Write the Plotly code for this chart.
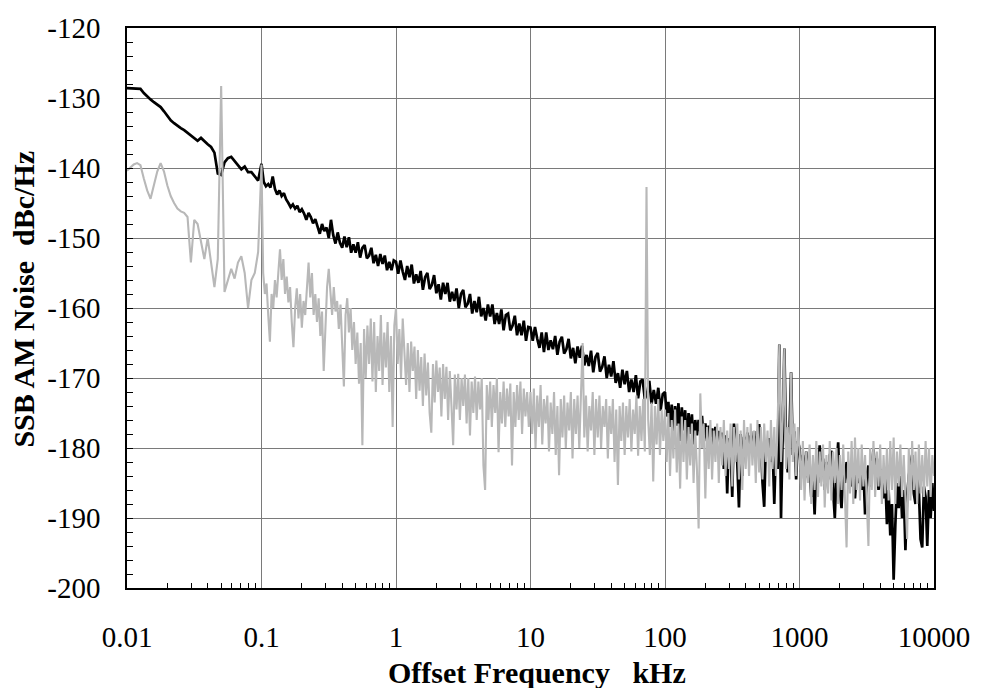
import numpy as np
import plotly.graph_objects as go

# ---------------- data (dBc/Hz), one list per decade of offset frequency (kHz) ----------------
decade_edges = [0.01, 0.1, 1, 10, 100, 1000, 10000]

black_d1 = [-128.6, -128.6, -128.6, -128.6, -128.7, -129.3, -129.8, -130.2, -130.6, -130.9,
            -131.3, -131.9, -132.6, -133.2, -133.6, -134.0, -134.3, -134.6, -135.0, -135.3,
            -135.8, -136.1, -135.7, -136.2, -136.6, -137.0, -137.8, -140.8, -141.0, -139.2,
            -138.6, -138.4, -139.0, -139.6, -140.2, -139.8, -140.6, -140.6, -141.2, -141.8]
black_d2 = [-139.4, -142.0, -142.6, -142.3, -142.8, -141.2, -143.0, -143.8, -143.2, -144.0,
            -143.6, -144.5, -145.0, -145.6, -145.2, -145.8, -145.4, -146.3, -145.9, -146.5,
            -147.4, -146.4, -147.0, -147.9, -147.3, -148.2, -149.4, -148.0, -149.0, -148.5,
            -150.0, -147.4, -149.6, -150.8, -149.2, -150.7, -151.4, -149.8, -151.3, -149.9,
            -152.1, -150.9, -152.1, -150.6, -152.8, -151.4, -151.0, -152.9, -152.5, -151.4,
            -153.6, -152.4, -154.0, -152.3, -153.7, -152.5, -154.6, -153.4, -154.6, -153.2]
black_d3 = [-153.4, -155.1, -153.2, -154.8, -156.0, -154.0, -155.6, -153.8, -156.5, -155.2,
            -156.4, -154.7, -157.4, -155.6, -155.0, -157.3, -156.7, -155.3, -157.9, -156.6,
            -158.8, -156.4, -158.0, -156.4, -159.1, -157.7, -159.0, -157.2, -160.0, -158.0,
            -157.4, -159.9, -159.4, -158.0, -160.8, -159.0, -160.6, -158.4, -161.2, -160.0,
            -161.8, -159.5, -161.2, -159.5, -162.3, -160.7, -162.3, -160.2, -163.2, -161.0,
            -160.8, -163.2, -162.5, -161.1, -163.9, -162.2, -163.9, -161.8, -164.7, -162.7]
black_d4 = [-162.8, -164.7, -162.7, -164.4, -165.7, -163.5, -166.3, -163.5, -166.0, -164.6,
            -165.9, -164.0, -166.7, -164.8, -164.1, -166.5, -165.9, -164.4, -167.2, -165.7,
            -167.9, -165.5, -167.1, -165.4, -168.2, -166.7, -168.3, -166.1, -169.2, -167.0,
            -166.4, -169.1, -168.4, -166.9, -170.0, -168.1, -169.8, -167.6, -170.7, -169.3,
            -171.4, -168.8, -170.9, -169.0, -172.0, -170.2, -172.0, -169.6, -172.9, -170.5,
            -170.2, -173.0, -172.2, -170.4, -173.7, -171.7, -173.7, -171.4, -174.7, -172.3]
black_d5 = [-172.0, -175.5, -173.4, -177.0, -173.8, -178.5, -174.0, -176.8, -173.6, -179.0,
            -174.2, -177.5, -174.6, -180.0, -175.0, -178.0, -175.2, -179.5, -176.0, -178.2,
            -176.0, -177.6, -175.4, -178.8, -176.5, -179.0, -176.8, -178.4, -177.2, -179.5,
            -177.0, -178.0, -177.6, -179.4, -177.8, -183.0, -178.2, -186.5, -178.6, -180.0,
            -187.0, -176.5, -179.5, -182.2, -188.5, -178.0, -184.0, -178.4, -180.4, -177.8,
            -180.0, -178.2, -180.6, -177.6, -181.0, -178.0, -176.6, -179.2, -185.0, -188.4,
            -179.0, -180.8, -178.6, -182.0, -180.0, -188.0, -179.6, -183.0, -165.2, -190.0,
            -178.0, -165.8, -179.0, -183.5, -178.2, -169.2, -181.0, -177.6, -184.5, -179.0]
black_d6 = [-180.0, -183.5, -181.0, -185.0, -180.5, -184.2, -182.0, -187.0, -184.0, -189.5,
            -182.0, -185.0, -179.6, -184.0, -181.5, -186.0, -182.0, -184.5, -181.0, -180.4,
            -186.0, -190.0, -183.0, -179.2, -186.0, -188.6, -183.0, -185.0, -182.0, -184.5,
            -183.2, -185.5, -182.5, -187.2, -183.5, -185.0, -182.8, -186.0, -183.0, -189.5,
            -184.0, -182.5, -185.5, -183.0, -180.2, -183.5, -181.5, -186.0, -183.0, -185.5,
            -187.2, -184.0, -190.9, -186.0, -192.5, -188.0, -198.8, -191.0, -185.0, -188.6,
            -184.0, -190.0, -186.0, -194.6, -187.0, -184.0, -182.5, -181.0, -186.5, -188.0,
            -184.5, -186.0, -193.0, -194.2, -185.5, -187.0, -194.0, -186.0, -190.0, -185.0]
black_end = -189.0

gray_d1 = [-140.4, -140.0, -139.5, -139.3, -139.6, -141.5, -143.2, -144.4, -142.5, -140.5,
           -139.3, -140.5, -142.5, -144.0, -145.0, -145.8, -146.2, -146.4, -147.0, -153.5,
           -147.4, -148.0, -150.5, -153.0, -150.0, -153.5, -157.0, -153.0, -128.3, -157.7,
           -156.0, -154.4, -155.8, -153.5, -152.6, -155.0, -160.0, -156.0, -155.0, -152.0]
gray_d2 = [-139.5, -155.0, -158.0, -156.5, -161.0, -164.8, -158.0, -160.0, -156.0, -158.5,
           -155.0, -151.6, -156.0, -153.0, -158.0, -155.5, -159.2, -157.0, -162.0, -165.6,
           -160.0, -157.2, -161.5, -158.0, -162.8, -159.0, -161.0, -156.5, -153.5, -158.5,
           -155.0, -161.0, -158.0, -162.0, -158.6, -164.0, -160.5, -169.0, -162.0, -157.0,
           -154.4, -158.5, -161.0, -157.0, -160.5, -159.0, -163.0, -159.5, -165.0, -171.2,
           -161.0, -158.6, -163.5, -160.0, -166.0, -162.0, -168.0, -163.5, -170.8, -165.0,
           -179.6, -163.0, -170.0, -162.5, -168.0, -161.5, -170.5, -162.0, -172.0, -164.0,
           -169.0, -161.0, -171.0, -163.5, -168.5, -162.0, -172.0, -164.0, -177.0, -162.5]
gray_d3 = [-160.0, -168.0, -163.0, -170.0, -161.5, -166.0, -171.0, -165.0, -172.0, -164.8,
           -169.0, -165.5, -173.0, -166.0, -171.8, -167.0, -174.0, -166.5, -172.5, -167.8,
           -175.0, -177.8, -168.0, -173.5, -167.5, -172.0, -168.5, -175.5, -168.0, -173.0,
           -168.4, -176.0, -169.0, -174.0, -179.6, -169.5, -174.5, -169.4, -176.0, -170.0,
           -174.0, -169.5, -176.5, -170.0, -178.2, -170.5, -175.0, -169.8, -176.0, -170.5,
           -174.5, -170.0, -182.5, -186.0, -171.0, -176.0, -170.5, -177.0, -171.0, -175.0,
           -170.0, -180.6, -172.0, -176.5, -170.5, -177.0, -171.5, -175.5, -170.8, -182.5,
           -172.0, -177.0, -171.0, -176.0, -170.5, -178.0, -171.5, -175.5, -172.0, -177.0]
gray_d4 = [-172.0, -178.0, -171.5, -180.0, -172.5, -177.0, -171.0, -179.5, -173.0, -176.5,
           -172.5, -180.5, -173.5, -178.0, -172.0, -181.0, -174.0, -183.9, -173.0, -178.5,
           -172.5, -180.0, -173.5, -177.5, -172.0, -181.5, -173.0, -178.0, -172.5, -180.0,
           -173.5, -165.0, -178.5, -172.5, -180.5, -174.0, -177.5, -172.0, -181.0, -173.0,
           -178.5, -172.5, -180.0, -174.0, -177.0, -173.0, -181.5, -174.0, -178.0, -173.0,
           -182.0, -174.5, -185.3, -174.0, -179.0, -173.5, -181.0, -174.0, -178.5, -173.0,
           -180.5, -174.5, -178.0, -172.5, -181.1, -174.0, -179.0, -173.0, -180.5, -142.7,
           -176.0, -181.0, -173.5, -184.8, -174.0, -179.5, -173.0, -181.0, -174.5, -179.0]
gray_d5 = [-174.5, -182.0, -175.0, -184.0, -176.0, -181.5, -174.5, -183.5, -176.5, -185.8,
           -175.5, -182.0, -176.0, -184.5, -177.0, -182.5, -176.5, -185.0, -177.5, -183.0,
           -191.5, -172.2, -180.0, -176.5, -187.2, -177.0, -183.0, -176.0, -184.5, -177.5,
           -182.0, -176.5, -185.0, -177.0, -182.5, -176.0, -184.0, -177.5, -183.0, -176.5,
           -185.5, -177.0, -182.0, -176.5, -184.5, -177.5, -186.0, -176.0, -183.0, -177.0,
           -184.0, -176.5, -182.5, -177.5, -185.0, -176.0, -183.5, -177.0, -184.5, -176.5,
           -182.0, -177.5, -185.5, -176.0, -183.0, -177.0, -184.0, -176.5, -165.2, -182.0,
           -176.0, -165.8, -183.0, -177.0, -184.5, -169.2, -182.0, -176.5, -184.0, -177.0]
gray_d6 = [-180.0, -186.0, -179.0, -187.5, -180.5, -185.0, -179.5, -188.0, -181.0, -186.0,
           -179.0, -187.0, -180.5, -185.5, -179.5, -188.5, -181.0, -186.5, -179.0, -187.5,
           -180.5, -185.0, -180.0, -188.0, -181.0, -186.0, -179.5, -187.0, -194.2, -180.5,
           -186.5, -179.0, -188.0, -178.5, -186.0, -180.0, -187.5, -179.5, -185.5, -181.0,
           -188.5, -194.0, -180.0, -186.0, -179.0, -187.0, -180.5, -185.5, -179.5, -188.0,
           -181.0, -186.5, -180.0, -187.5, -179.0, -186.0, -178.5, -188.0, -180.5, -185.5,
           -179.5, -187.0, -181.0, -186.0, -193.0, -180.0, -187.5, -179.0, -186.0, -180.5,
           -188.0, -179.5, -186.5, -181.0, -187.0, -179.0, -185.5, -180.0, -187.0, -181.0]
gray_end = -184.0

x_tick_vals = [0.01, 0.1, 1, 10, 100, 1000, 10000]
x_tick_text = ["0.01", "0.1", "1", "10", "100", "1000", "10000"]
y_tick_vals = [-200, -190, -180, -170, -160, -150, -140, -130, -120]
y_tick_text = ["-200", "-190", "-180", "-170", "-160", "-150", "-140", "-130", "-120"]


def build(segments, end_value):
    xs, ys = [], []
    for k, seg in enumerate(segments):
        f = np.geomspace(decade_edges[k], decade_edges[k + 1], len(seg), endpoint=False)
        xs.extend(f.tolist())
        ys.extend(seg)
    xs.append(decade_edges[-1])
    ys.append(end_value)
    return xs, ys


bx, by = build([black_d1, black_d2, black_d3, black_d4, black_d5, black_d6], black_end)
gx, gy = build([gray_d1, gray_d2, gray_d3, gray_d4, gray_d5, gray_d6], gray_end)

minor_x = [m * 10.0 ** e for e in range(-2, 4) for m in range(2, 10)]

fig = go.Figure()
fig.add_trace(go.Scatter(x=bx, y=by, mode="lines", line=dict(color="#000000", width=2.7),
                         showlegend=False))
fig.add_trace(go.Scatter(x=gx, y=gy, mode="lines", line=dict(color="#b8b8b8", width=2.1),
                         showlegend=False))

serif = "Liberation Serif, Times New Roman, serif"
fig.update_layout(
    width=982, height=688,
    margin=dict(l=127, r=44, t=18, b=100),
    paper_bgcolor="white", plot_bgcolor="white",
    font=dict(family=serif, color="#000000"),
    xaxis=dict(type="log", range=[-2, 4], tickmode="array", tickvals=x_tick_vals,
               ticktext=x_tick_text, tickfont=dict(size=29, family=serif),
               showgrid=True, gridcolor="#7a7a7a", gridwidth=1,
               showline=True, linecolor="#000000", linewidth=1.5, mirror=True,
               ticks="", ticklabelstandoff=22, zeroline=False,
               minor=dict(tickmode="array", tickvals=minor_x, ticks="inside", ticklen=5,
                          tickcolor="#000000", showgrid=False)),
    yaxis=dict(range=[-200, -120], tickmode="array", tickvals=y_tick_vals,
               ticktext=y_tick_text, tickfont=dict(size=29, family=serif),
               showgrid=True, gridcolor="#7a7a7a", gridwidth=1,
               showline=True, linecolor="#000000", linewidth=1.5, mirror=True,
               ticks="inside", ticklen=6, tickcolor="#000000", ticklabelstandoff=19,
               zeroline=False,
               minor=dict(dtick=2, ticks="inside", ticklen=6, tickcolor="#000000",
                          showgrid=False)),
    annotations=[
        dict(text="<b>Offset Frequency&nbsp;&nbsp;&nbsp;kHz</b>", xref="paper", yref="paper",
             x=0.5, y=0, xshift=6, yshift=-84, xanchor="center", yanchor="middle",
             showarrow=False, font=dict(size=30, family=serif, color="#000000")),
        dict(text="<b>SSB AM Noise&nbsp;&nbsp;dBc/Hz</b>", xref="paper", yref="paper",
             x=0, y=0.515, xshift=-103, xanchor="center", yanchor="middle", textangle=-90,
             showarrow=False, font=dict(size=30, family=serif, color="#000000")),
    ],
)

fig.write_html("out.html")
